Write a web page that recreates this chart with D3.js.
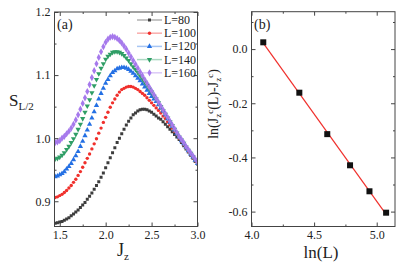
<!DOCTYPE html>
<html>
<head>
<meta charset="utf-8">
<script src="https://cdn.jsdelivr.net/npm/d3@7"></script>
<style>
  body { margin: 0; background: #fff; }
  svg text { font-family: "Liberation Serif", "DejaVu Serif", "Times New Roman", serif; fill: #222; }
</style>
</head>
<body>
<svg id="chart" width="407" height="268"></svg>
<script>
// panel (a): entanglement entropy vs Jz
const jz = [1.450,1.475,1.500,1.525,1.550,1.575,1.600,1.625,1.650,1.675,1.700,1.725,1.750,1.775,1.800,1.825,1.850,1.875,1.900,1.925,1.950,1.975,2.000,2.025,2.050,2.075,2.100,2.125,2.150,2.175,2.200,2.225,2.250,2.275,2.300,2.325,2.350,2.375,2.400,2.425,2.450,2.475,2.500,2.525,2.550,2.575,2.600,2.625,2.650,2.675,2.700,2.725,2.750,2.775,2.800,2.825,2.850,2.875,2.900,2.925,2.950,2.975,3.000]

const sL80 = [0.865,0.866,0.867,0.868,0.870,0.872,0.874,0.877,0.880,0.883,0.886,0.890,0.894,0.898,0.903,0.908,0.913,0.919,0.925,0.931,0.938,0.945,0.953,0.961,0.969,0.977,0.985,0.993,1.000,1.007,1.014,1.021,1.027,1.032,1.037,1.040,1.043,1.045,1.046,1.046,1.045,1.043,1.041,1.038,1.035,1.032,1.030,1.026,1.022,1.018,1.014,1.010,1.006,1.002,0.998,0.993,0.988,0.983,0.978,0.973,0.968,0.963,0.959]
const sL100 = [0.906,0.907,0.909,0.911,0.914,0.917,0.921,0.925,0.930,0.935,0.941,0.947,0.954,0.961,0.968,0.975,0.983,0.991,0.999,1.008,1.016,1.025,1.033,1.041,1.049,1.056,1.062,1.068,1.073,1.077,1.079,1.081,1.082,1.082,1.081,1.079,1.077,1.074,1.071,1.068,1.064,1.060,1.056,1.052,1.048,1.044,1.040,1.035,1.031,1.026,1.021,1.016,1.011,1.006,1.000,0.995,0.990,0.985,0.979,0.974,0.969,0.964,0.960]
const sL120 = [0.939,0.940,0.942,0.944,0.947,0.951,0.955,0.960,0.966,0.972,0.979,0.987,0.995,1.004,1.013,1.022,1.032,1.042,1.052,1.062,1.071,1.079,1.087,1.093,1.099,1.104,1.107,1.110,1.111,1.112,1.112,1.111,1.109,1.106,1.103,1.099,1.095,1.091,1.086,1.081,1.076,1.071,1.066,1.062,1.058,1.053,1.048,1.043,1.037,1.031,1.025,1.019,1.013,1.007,1.002,0.996,0.991,0.986,0.980,0.975,0.970,0.965,0.960]
const sL140 = [0.967,0.968,0.970,0.973,0.977,0.982,0.987,0.993,0.999,1.006,1.014,1.022,1.031,1.041,1.051,1.061,1.072,1.083,1.093,1.102,1.111,1.118,1.125,1.130,1.133,1.136,1.137,1.137,1.136,1.134,1.131,1.127,1.123,1.118,1.113,1.109,1.104,1.099,1.094,1.089,1.084,1.078,1.073,1.067,1.062,1.056,1.050,1.044,1.038,1.032,1.026,1.020,1.014,1.008,1.002,0.997,0.992,0.986,0.981,0.976,0.971,0.966,0.961]
const sL160 = [0.993,0.994,0.996,1.000,1.003,1.007,1.011,1.016,1.022,1.029,1.037,1.046,1.055,1.064,1.074,1.085,1.096,1.107,1.118,1.128,1.137,1.145,1.152,1.157,1.160,1.161,1.160,1.158,1.155,1.151,1.146,1.141,1.135,1.129,1.123,1.117,1.111,1.105,1.099,1.093,1.087,1.081,1.075,1.069,1.063,1.057,1.051,1.045,1.039,1.033,1.027,1.021,1.015,1.009,1.003,0.998,0.993,0.987,0.982,0.977,0.972,0.967,0.962]

const seriesNames = ['L=80', 'L=100', 'L=120', 'L=140', 'L=160']

// panel (b): finite size scaling of the peak position
const lnL = [4.094, 4.382, 4.605, 4.787, 4.942, 5.075]
const lnShift = [0.025, -0.161, -0.314, -0.429, -0.525, -0.604]

const aXTicks = [1.5, 2.0, 2.5, 3.0]
const aXMinor = [1.75, 2.25, 2.75]
const aYTicks = [0.9, 1.0, 1.1, 1.2]
const aYMinor = [0.95, 1.05, 1.15]
const bXTicks = [4.0, 4.5, 5.0]
const bXMinor = [4.25, 4.75]
const bYTicks = [0.0, -0.2, -0.4, -0.6]
const bYMinor = [0.1, -0.1, -0.3, -0.5]

const FONT = '"Liberation Serif", "DejaVu Serif", "Times New Roman", serif'
const svg = d3.select('#chart').attr('font-family', FONT)
const fmt = (v) => d3.format('.1f')(v).replace('\u2212', '-')

const styles = [
    {color: '#3d3d3d', symbol: d3.symbolSquare, size: 9},
    {color: '#f0302c', symbol: d3.symbolCircle, size: 9},
    {color: '#2470e4', symbol: d3.symbolTriangle, size: 12},
    {color: '#2f9e66', symbol: d3.symbolTriangle, size: 12, flip: true},
    {color: '#a679ec', symbol: d3.symbolDiamond, size: 15}
]

const drawFrame = (x, y, xt, xm, yt, ym) => {
    const [x0, x1] = x.range()
    const [y0, y1] = y.range()
    const g = svg.append('g')
    const axes = [
        {ax: d3.axisBottom(x), pos: `translate(0,${y0})`, lab: true, t: xt, m: xm},
        {ax: d3.axisTop(x), pos: `translate(0,${y1})`, lab: false, t: xt, m: xm},
        {ax: d3.axisLeft(y), pos: `translate(${x0},0)`, lab: true, t: yt, m: ym},
        {ax: d3.axisRight(y), pos: `translate(${x1},0)`, lab: false, t: yt, m: ym}
    ]
    axes.forEach((a) => {
        const major = a.ax.tickValues(a.t).tickSize(-4).tickPadding(4)
            .tickFormat(a.lab ? fmt : '')
        const gm = g.append('g').attr('transform', a.pos).call(major)
        gm.attr('font-family', FONT)
        gm.select('.domain').remove()
        gm.selectAll('line').attr('stroke', '#444')
        gm.selectAll('text').attr('font-size', 12).attr('font-family', FONT).attr('fill', '#222')
        const minor = a.ax.tickValues(a.m).tickSize(-2).tickFormat('')
        const gn = g.append('g').attr('transform', a.pos).call(minor)
        gn.select('.domain').remove()
        gn.selectAll('line').attr('stroke', '#444')
    })
    g.append('rect')
        .attr('x', x0).attr('y', y1)
        .attr('width', x1 - x0).attr('height', y0 - y1)
        .attr('fill', 'none').attr('stroke', '#444').attr('stroke-width', 1)
    return g
}

const marker = (st) => d3.symbol().type(st.symbol).size(st.size)()

// ---------- panel (a)
const xA = d3.scaleLinear().domain([1.443, 3.0]).range([54.5, 197.5])
const yA = d3.scaleLinear().domain([0.86, 1.2]).range([226.5, 12])

const series = [sL80, sL100, sL120, sL140, sL160]
svg.append('clipPath').attr('id', 'clipA').append('rect')
    .attr('x', 54.5).attr('y', 12).attr('width', 143).attr('height', 214.5)

series.forEach((vals, i) => {
    const st = styles[i]
    svg.append('g').attr('clip-path', 'url(#clipA)')
        .selectAll('path')
        .data(vals)
        .enter()
        .append('path')
        .attr('d', marker(st))
        .attr('transform', (d, j) => `translate(${xA(jz[j])},${yA(d)})${st.flip ? ' rotate(180)' : ''}`)
        .attr('fill', st.color)
})

drawFrame(xA, yA, aXTicks, aXMinor, aYTicks, aYMinor)

// legend
const legend = svg.append('g')
seriesNames.forEach((name, i) => {
    const st = styles[i]
    const ly = 20 + i * 13.2
    legend.append('line')
        .attr('x1', 137).attr('x2', 162).attr('y1', ly).attr('y2', ly)
        .attr('stroke', st.color).attr('stroke-opacity', 0.4).attr('stroke-width', 1.5)
    legend.append('path')
        .attr('d', marker(st))
        .attr('transform', `translate(149.5,${ly})${st.flip ? ' rotate(180)' : ''}`)
        .attr('fill', st.color)
    legend.append('text')
        .attr('x', 164).attr('y', ly + 4)
        .attr('font-size', 12)
        .text(name)
})

svg.append('text').attr('x', 57).attr('y', 29).attr('font-size', 14).text('(a)')

const sLabel = svg.append('text').attr('x', 9).attr('y', 106).attr('font-size', 17)
sLabel.append('tspan').text('S')
sLabel.append('tspan').attr('dy', 4).attr('font-size', 11).text('L/2')

const jLabel = svg.append('text').attr('x', 117).attr('y', 256).attr('font-size', 18)
jLabel.append('tspan').text('J')
jLabel.append('tspan').attr('dy', 4).attr('font-size', 11).text('z')

// ---------- panel (b)
const xB = d3.scaleLinear().domain([4.0, 5.146]).range([251.5, 395])
const yB = d3.scaleLinear().domain([-0.655, 0.138]).range([226.5, 11.7])

// least squares fit line through the points
const mx = d3.mean(lnL)
const my = d3.mean(lnShift)
const slope = d3.sum(lnL, (v, i) => (v - mx) * (lnShift[i] - my)) / d3.sum(lnL, (v) => (v - mx) * (v - mx))
const icpt = my - slope * mx
const fitX = [d3.min(lnL), d3.max(lnL)]

svg.append('path')
    .datum(fitX)
    .attr('d', d3.line().x((d) => xB(d)).y((d) => yB(icpt + slope * d)))
    .attr('stroke', '#f0302c').attr('stroke-width', 1.2).attr('fill', 'none')

svg.append('g').selectAll('rect')
    .data(lnL)
    .enter()
    .append('rect')
    .attr('x', (d) => xB(d) - 3)
    .attr('y', (d, i) => yB(lnShift[i]) - 3)
    .attr('width', 6).attr('height', 6)
    .attr('fill', '#111')

drawFrame(xB, yB, bXTicks, bXMinor, bYTicks, bYMinor)

svg.append('text').attr('x', 254).attr('y', 29).attr('font-size', 14).text('(b)')

svg.append('text').attr('x', 321).attr('y', 258).attr('font-size', 17)
    .attr('text-anchor', 'middle').text('ln(L)')

const rLabel = svg.append('text')
    .attr('transform', 'translate(218,104) rotate(-90)')
    .attr('text-anchor', 'middle').attr('font-size', 14)
rLabel.append('tspan').text('ln(J')
rLabel.append('tspan').attr('dy', 3).attr('font-size', 9).text('z')
rLabel.append('tspan').attr('dy', -8).attr('font-size', 9).text('c')
rLabel.append('tspan').attr('dy', 5).text('(L)-J')
rLabel.append('tspan').attr('dy', 3).attr('font-size', 9).text('z')
rLabel.append('tspan').attr('dy', -8).attr('font-size', 9).text('c')
rLabel.append('tspan').attr('dy', 5).text(')')
</script>
</body>
</html>
